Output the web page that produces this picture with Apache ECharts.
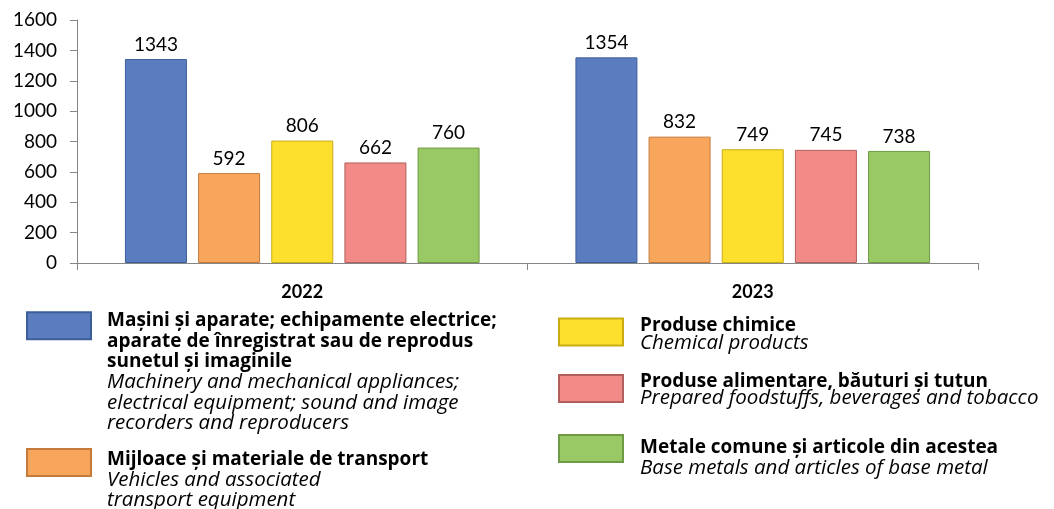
<!DOCTYPE html>
<html>
<head>
<meta charset="utf-8">
<script src="https://cdn.jsdelivr.net/npm/echarts@6/dist/echarts.min.js"></script>
<style>
  html, body { margin: 0; padding: 0; background: #fff; }
  #content { width: 1054px; height: 509px; }
</style>
</head>
<body>
<div id="content"></div>
<script>
var years = ['2022', '2023'];
var seriesNames = [
    'Mașini și aparate; echipamente electrice; aparate de înregistrat sau de reprodus sunetul și imaginile',
    'Mijloace și materiale de transport',
    'Produse chimice',
    'Produse alimentare, băuturi și tutun',
    'Metale comune și articole din acestea'
];
var values = [
    [1343, 1354],
    [592, 832],
    [806, 749],
    [662, 745],
    [760, 738]
];
var legendRo = [
    ['Mașini și aparate; echipamente electrice;', 'aparate de înregistrat sau de reprodus', 'sunetul și imaginile'],
    ['Mijloace și materiale de transport'],
    ['Produse chimice'],
    ['Produse alimentare, băuturi și tutun'],
    ['Metale comune și articole din acestea']
];
var legendEn = [
    ['Machinery and mechanical appliances;', 'electrical equipment; sound and image', 'recorders and reproducers'],
    ['Vehicles and associated', 'transport equipment'],
    ['Chemical products'],
    ['Prepared foodstuffs, beverages and tobacco'],
    ['Base metals and articles of base metal']
];
var yTicks = [0, 1600, 200];

var fills = ['#5a7dc0', '#f8a65c', '#fde02e', '#f28b87', '#98c964'];
var borders = ['#3e5e99', '#c47a3b', '#c9ab14', '#b05f5c', '#6e9a43'];

var FONT = 'Lato';
var LEG_FONT = 'Open Sans';
var element = document.getElementById('content');
var myChart = echarts.init(element);

// legend spots: left, icon top, text top, line height, gap icon->text
var legendSpots = [
    [26, 313, 311, 20.6, 11],
    [26, 448, 449, 20, 11],
    [558, 318, 316, 18, 12],
    [558, 374, 372, 17, 12],
    [558, 434, 436, 21, 12]
];

function makeLegend(i) {
    var s = legendSpots[i];
    var lines = legendRo[i].length + legendEn[i].length;
    var H = lines * s[3];
    var P = 2 * (s[2] - s[1] - 13.5) + H;
    return {
        data: [seriesNames[i]],
        left: s[0],
        top: Math.min(s[1], s[2]),
        orient: 'vertical',
        padding: 0,
        itemWidth: 64,
        itemHeight: 27,
        selectedMode: false,
        icon: 'rect',
        formatter: function() {
            var out = legendRo[i].map(function(t) { return '{b|' + t + '}'; })
                .concat(legendEn[i].map(function(t) { return '{i|' + t + '}'; }));
            return out.join('\n');
        },
        textStyle: {
            padding: [P, 0, 0, s[4]],
            rich: {
                b: { fontFamily: LEG_FONT, fontSize: 19, fontWeight: 'bold', color: '#000', lineHeight: s[3] },
                i: { fontFamily: LEG_FONT, fontSize: 20.5, fontStyle: 'italic', color: '#000', lineHeight: s[3] }
            }
        }
    };
}

var series = seriesNames.map(function(name, i) {
    return {
        name: name,
        type: 'bar',
        barWidth: 62,
        barGap: '18%',
        data: values[i],
        itemStyle: {
            color: fills[i],
            borderColor: borders[i],
            borderWidth: 1
        },
        label: {
            show: true,
            position: 'top',
            distance: 5,
            fontFamily: FONT,
            fontSize: 19,
            color: '#000'
        }
    };
});

var option = {
    animation: false,
    backgroundColor: '#fff',
    textStyle: { fontFamily: FONT },
    grid: {
        left: 77,
        right: 76,
        top: 20,
        bottom: 246,
        containLabel: false,
        outerBoundsMode: 'none'
    },
    legend: seriesNames.map(function(n, i) { return makeLegend(i); }),
    xAxis: {
        type: 'category',
        data: years,
        boundaryGap: true,
        axisLine: { show: true, lineStyle: { color: '#868686', width: 1 } },
        axisTick: { show: true, length: 7, alignWithLabel: false, lineStyle: { color: '#868686' } },
        axisLabel: {
            margin: 20,
            fontFamily: FONT,
            fontSize: 18,
            fontWeight: 'bold',
            color: '#000'
        },
        splitLine: { show: false }
    },
    yAxis: {
        type: 'value',
        min: yTicks[0],
        max: yTicks[1],
        interval: yTicks[2],
        axisLine: { show: true, lineStyle: { color: '#868686', width: 1 } },
        axisTick: { show: true, length: 7, lineStyle: { color: '#868686' } },
        axisLabel: {
            margin: 20,
            fontFamily: FONT,
            fontSize: 19,
            color: '#000',
            formatter: function(v) { return String(v); }
        },
        splitLine: { show: false }
    },
    series: series
};
myChart.setOption(option);
</script>
</body>
</html>
